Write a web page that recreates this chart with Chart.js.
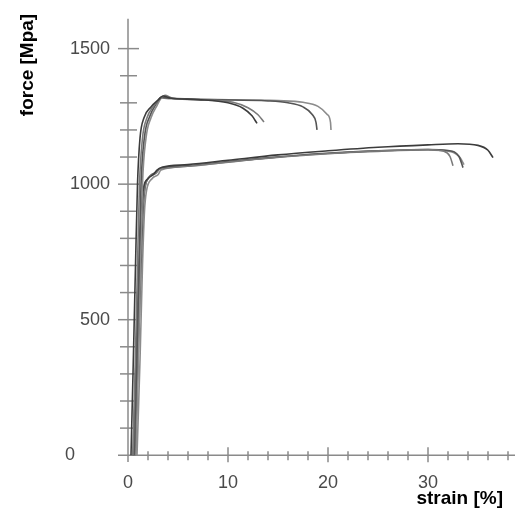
<!DOCTYPE html>
<html>
<head>
<meta charset="utf-8">
<script src="https://cdn.jsdelivr.net/npm/chart.js@4"></script>
<style>
  html, body { margin: 0; padding: 0; background: #fff; }
  canvas { display: block; }
</style>
</head>
<body>
<canvas id="stressChart" width="515" height="509"></canvas>
<script>
// Tensile test curves: strain [%] vs force [MPa]
// High-strength specimens (break between 13 and 20 %)
const specA1 = [[0.3,0],[0.5,300],[0.75,700],[0.95,1000],[1.2,1170],[1.6,1245],[2.3,1285],[3.0,1310],[3.5,1325],[4.2,1318],[7,1312],[10,1300],[11.5,1280],[12.4,1252],[12.9,1224]];
const specA2 = [[0.5,0],[0.7,300],[0.95,700],[1.15,1000],[1.45,1170],[1.9,1245],[2.5,1285],[3.2,1315],[3.7,1328],[4.4,1318],[8,1310],[10.5,1302],[12,1282],[13,1256],[13.6,1229]];
const specA3 = [[0.6,0],[0.85,300],[1.1,700],[1.3,1000],[1.65,1175],[2.2,1252],[2.8,1295],[3.3,1320],[4.0,1318],[8,1312],[14,1307],[16,1300],[17.5,1285],[18.4,1258],[18.8,1228],[18.9,1200]];
const specA4 = [[0.8,0],[1.0,300],[1.25,700],[1.45,1000],[1.8,1170],[2.3,1245],[2.9,1290],[3.4,1318],[4.2,1315],[9,1312],[15,1308],[17.5,1302],[19,1287],[19.9,1258],[20.25,1228],[20.3,1200]];
// Ductile specimens (break between 32 and 37 %)
const specB1 = [[0.5,0],[0.8,350],[1.1,700],[1.35,900],[1.55,985],[2.0,1020],[2.6,1038],[2.9,1052],[3.4,1062],[6,1072],[10,1088],[15,1108],[20,1123],[25,1136],[30,1145],[33,1149],[35,1143],[36,1125],[36.5,1098]];
const specB2 = [[0.6,0],[0.9,350],[1.2,700],[1.45,900],[1.65,980],[2.1,1025],[2.8,1040],[3.1,1055],[4,1060],[7,1070],[11,1085],[16,1102],[21,1115],[26,1124],[30,1128],[31.5,1122],[32.2,1102],[32.5,1068]];
const specB3 = [[0.7,0],[1.0,350],[1.3,700],[1.5,900],[1.7,985],[2.2,1030],[2.9,1045],[3.2,1058],[5,1065],[9,1080],[14,1097],[19,1112],[24,1122],[30,1128],[32,1124],[33.1,1102],[33.5,1061]];
const specB4 = [[0.9,0],[1.2,350],[1.45,700],[1.65,900],[1.85,975],[2.4,1020],[3.0,1035],[3.3,1052],[6,1066],[10,1082],[15,1100],[20,1113],[25,1121],[30,1126],[32.3,1120],[33.2,1098],[33.6,1072]];

const xTickLabels = [0, 10, 20, 30];
const yTickLabels = [0, 500, 1000, 1500];
const xMinorStep = 2, xMinorMax = 38;
const yMinorStep = 100, yMinorMax = 1500;

const specimens = [specA1, specA2, specA3, specA4, specB1, specB2, specB3, specB4];
const lineColors = ['#3c3c3c', '#7a7a7a', '#555555', '#8c8c8c', '#3c3c3c', '#7a7a7a', '#555555', '#8c8c8c'];

// axis lines cross at the origin with ticks straddling them, plus bold titles
const axisDecor = {
  id: 'axisDecor',
  beforeDatasetsDraw(chart) {
    const { ctx, chartArea, scales: { x, y } } = chart;
    const x0 = x.getPixelForValue(0);
    const y0 = y.getPixelForValue(0);
    ctx.save();
    ctx.strokeStyle = '#8a8a8a';
    ctx.lineWidth = 1.5;
    ctx.beginPath();
    ctx.moveTo(x0, chartArea.bottom);
    ctx.lineTo(x0, chartArea.top);
    ctx.moveTo(chartArea.left, y0);
    ctx.lineTo(chartArea.right, y0);
    ctx.stroke();
    for (let v = yMinorStep; v <= yMinorMax; v += yMinorStep) {
      const p = y.getPixelForValue(v);
      const major = yTickLabels.includes(v);
      ctx.beginPath();
      ctx.moveTo(x0 - (major ? 10 : 8), p);
      ctx.lineTo(x0 + (major ? 11 : 9), p);
      ctx.stroke();
    }
    for (let v = xMinorStep; v <= xMinorMax; v += xMinorStep) {
      const p = x.getPixelForValue(v);
      const major = xTickLabels.includes(v);
      ctx.beginPath();
      ctx.moveTo(p, y0 - (major ? 8 : 4));
      ctx.lineTo(p, y0 + (major ? 7 : 5));
      ctx.stroke();
    }
    ctx.restore();
  },
  afterDraw(chart) {
    const { ctx } = chart;
    ctx.save();
    ctx.fillStyle = '#000';
    ctx.font = 'bold 19px "Liberation Sans", Arial, sans-serif';
    ctx.textBaseline = 'middle';
    ctx.textAlign = 'center';
    ctx.translate(28, 65);
    ctx.rotate(-Math.PI / 2);
    ctx.fillText('force [Mpa]', 0, 0);
    ctx.restore();
    ctx.save();
    ctx.fillStyle = '#000';
    ctx.font = 'bold 19px "Liberation Sans", Arial, sans-serif';
    ctx.textBaseline = 'middle';
    ctx.textAlign = 'right';
    ctx.fillText('strain [%]', 503, 499);
    ctx.restore();
  }
};

const tickFont = { family: '"Liberation Sans", Arial, sans-serif', size: 18 };

const ctx = document.getElementById('stressChart').getContext('2d');
const stressChart = new Chart(ctx, {
  type: 'line',
  data: {
    datasets: specimens.map((pts, i) => ({
      data: pts.map(p => ({ x: p[0], y: p[1] })),
      borderColor: lineColors[i],
      borderWidth: 1.6,
      pointRadius: 0,
      fill: false,
      cubicInterpolationMode: 'monotone'
    }))
  },
  options: {
    responsive: false,
    animation: false,
    layout: { padding: { left: 0, top: 15, right: 0, bottom: 0 } },
    scales: {
      x: {
        type: 'linear',
        min: -1,
        max: 38.7,
        afterFit(scale) { scale.height = 47; },
        afterBuildTicks(scale) { scale.ticks = xTickLabels.map(v => ({ value: v })); },
        grid: { display: false, drawTicks: false },
        border: { display: false },
        ticks: {
          autoSkip: false,
          maxRotation: 0,
          padding: 10,
          color: '#4a4a4a',
          font: tickFont
        }
      },
      y: {
        type: 'linear',
        min: -25,
        max: 1610,
        afterFit(scale) { scale.width = 118; },
        afterBuildTicks(scale) { scale.ticks = yTickLabels.map(v => ({ value: v })); },
        grid: { display: false, drawTicks: false },
        border: { display: false },
        ticks: {
          autoSkip: false,
          padding: 8,
          color: '#4a4a4a',
          font: tickFont,
          // the zero label sits further left than the others
          callback: v => v === 0 ? '0\u2007\u2007\u2007 ' : String(v)
        }
      }
    },
    plugins: {
      legend: { display: false },
      tooltip: { enabled: false }
    }
  },
  plugins: [axisDecor]
});
</script>
</body>
</html>
